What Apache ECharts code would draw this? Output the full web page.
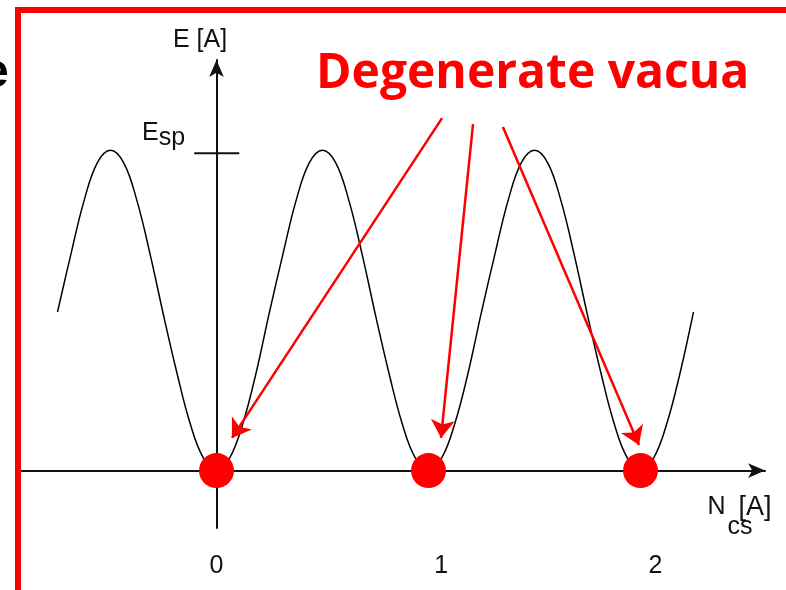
<!DOCTYPE html>
<html>
<head>
<meta charset="utf-8">
<script src="https://cdn.jsdelivr.net/npm/echarts@6/dist/echarts.min.js"></script>
<style>
  html, body { margin: 0; padding: 0; background: #fff; }
  #chart { width: 786px; height: 590px; }
</style>
</head>
<body>
<div id="chart"></div>
<script>
// Energy along the Chern-Simons number: periodic barrier between vacua
const ncs = [-0.75, -0.6875, -0.625, -0.5625, -0.5, -0.4375, -0.375, -0.3125,
  -0.25, -0.1875, -0.125, -0.0625, 0, 0.0625, 0.125, 0.1875,
  0.25, 0.3125, 0.375, 0.4375, 0.5, 0.5625, 0.625, 0.6875,
  0.75, 0.8125, 0.875, 0.9375, 1, 1.0625, 1.125, 1.1875,
  1.25, 1.3125, 1.375, 1.4375, 1.5, 1.5625, 1.625, 1.6875,
  1.75, 1.8125, 1.875, 1.9375, 2, 2.0625, 2.125, 2.1875, 2.25];
const energy = [0.50, 0.68, 0.85, 0.97, 1.01, 0.97, 0.85, 0.68,
  0.49, 0.31, 0.15, 0.04, 0.00, 0.04, 0.15, 0.31,
  0.50, 0.68, 0.85, 0.97, 1.01, 0.97, 0.85, 0.68,
  0.49, 0.31, 0.15, 0.04, 0.00, 0.04, 0.15, 0.31,
  0.50, 0.68, 0.85, 0.97, 1.01, 0.97, 0.85, 0.68,
  0.49, 0.31, 0.15, 0.04, 0.00, 0.04, 0.15, 0.31, 0.50];

// Degenerate vacua (energy minima)
const vacua = [0, 1, 2];

// Bottom tick labels and where they sit on the N_cs axis
const tickLabels = ['0', '1', '2'];
const tickPos = [0, 1.06, 2.07];

// Sphaleron energy level and the span of its tick mark
const espLevel = 1;
const espTickSpan = [-0.105, 0.1075];

// Pointer arrows from the caption to the vacua
const arrowFrom = [[1.064, 1.111], [1.210, 1.092], [1.351, 1.083]];
const arrowTo = [[0.073, 0.103], [1.059, 0.103], [1.993, 0.081]];

const caption = 'Degenerate vacua';
const FONT = "'Liberation Sans', Arial, sans-serif";
const INK = '#111';
const RED = '#ff0000';

const chart = echarts.init(document.getElementById('chart'));

const txt = (extra) => Object.assign({ fontSize: 25, color: INK, fontFamily: FONT }, extra);

chart.setOption({
  animation: false,
  backgroundColor: '#fff',
  title: {
    text: caption,
    left: 316,
    top: 50,
    padding: 0,
    textStyle: { color: RED, fontSize: 48, lineHeight: 48, fontWeight: 'bold', fontFamily: "'Open Sans', sans-serif" }
  },
  grid: { left: 21, right: 21, top: 60, bottom: 62, containLabel: false, outerBoundsMode: 'none' },
  xAxis: {
    type: 'value',
    min: -0.9222,
    max: 2.5873,
    axisLine: {
      onZero: true,
      symbol: ['none', 'arrow'],
      symbolSize: [11, 17],
      lineStyle: { color: INK, width: 2 }
    },
    axisTick: { show: false },
    splitLine: { show: false },
    axisLabel: {
      customValues: tickPos,
      formatter: (v) => tickLabels[tickPos.indexOf(v)],
      margin: 25.5,
      fontSize: 25,
      lineHeight: 25,
      color: INK,
      fontFamily: FONT
    },
    name: '{n|N}{a|[A]}\n{c|cs}',
    nameLocation: 'end',
    nameGap: 6.5,
    nameTextStyle: {
      align: 'right',
      verticalAlign: 'top',
      padding: [25, 0, 0, 0],
      fontSize: 25,
      color: INK,
      fontFamily: FONT,
      rich: {
        n: txt({ lineHeight: 23 }),
        a: txt({ fontSize: 27, lineHeight: 23, padding: [0, 0, 0, 13] }),
        c: txt({ lineHeight: 17, padding: [0, 19, 0, 0] })
      }
    }
  },
  yAxis: {
    type: 'value',
    min: -0.1809,
    max: 1.2941,
    axisLine: {
      onZero: true,
      symbol: ['none', 'arrow'],
      symbolSize: [11, 17],
      lineStyle: { color: INK, width: 2 }
    },
    axisTick: { show: false },
    splitLine: { show: false },
    axisLabel: {
      customValues: [espLevel],
      formatter: () => '{e|E}{s|sp}',
      inside: true,
      margin: 121,
      verticalAlign: 'middle',
      padding: [0, 0, 30, 0],
      rich: {
        e: txt({ lineHeight: 25, verticalAlign: 'top' }),
        s: txt({ lineHeight: 36 })
      }
    },
    name: 'E [A]',
    nameLocation: 'end',
    nameGap: 7.2,
    nameTextStyle: {
      align: 'center',
      verticalAlign: 'bottom',
      padding: [0, 33, 0, 0],
      fontSize: 25,
      lineHeight: 25,
      color: INK,
      fontFamily: FONT
    }
  },
  series: [
    {
      name: 'barrier',
      type: 'line',
      data: ncs.map((n, i) => [n, energy[i]]),
      showSymbol: false,
      smooth: 0.4,
      lineStyle: { color: '#000', width: 1.5 },
      z: 2
    },
    {
      name: 'espTick',
      type: 'line',
      data: espTickSpan.map((n) => [n, espLevel]),
      showSymbol: false,
      lineStyle: { color: INK, width: 2 },
      z: 2
    },
    {
      name: 'vacua',
      type: 'scatter',
      data: vacua.map((v) => [v, 0]),
      symbolSize: 35,
      itemStyle: { color: RED, opacity: 1 },
      z: 5
    },
    {
      name: 'pointers',
      type: 'lines',
      coordinateSystem: 'cartesian2d',
      data: arrowFrom.map((f, i) => ({ coords: [f, arrowTo[i]] })),
      symbol: ['none', 'arrow'],
      symbolSize: [14, 18],
      lineStyle: { color: RED, width: 2.5, opacity: 1 },
      z: 6
    }
  ],
  graphic: [
    {
      type: 'rect',
      silent: true,
      z: 100,
      shape: { x: 18, y: 10, width: 820, height: 620 },
      style: { fill: 'none', stroke: RED, lineWidth: 6 }
    },
    {
      type: 'text',
      silent: true,
      x: -18,
      y: 73.4,
      style: { text: 'e', fontSize: 48, fontWeight: 'bold', fontFamily: FONT, fill: '#000', verticalAlign: 'middle' }
    }
  ]
});
</script>
</body>
</html>
